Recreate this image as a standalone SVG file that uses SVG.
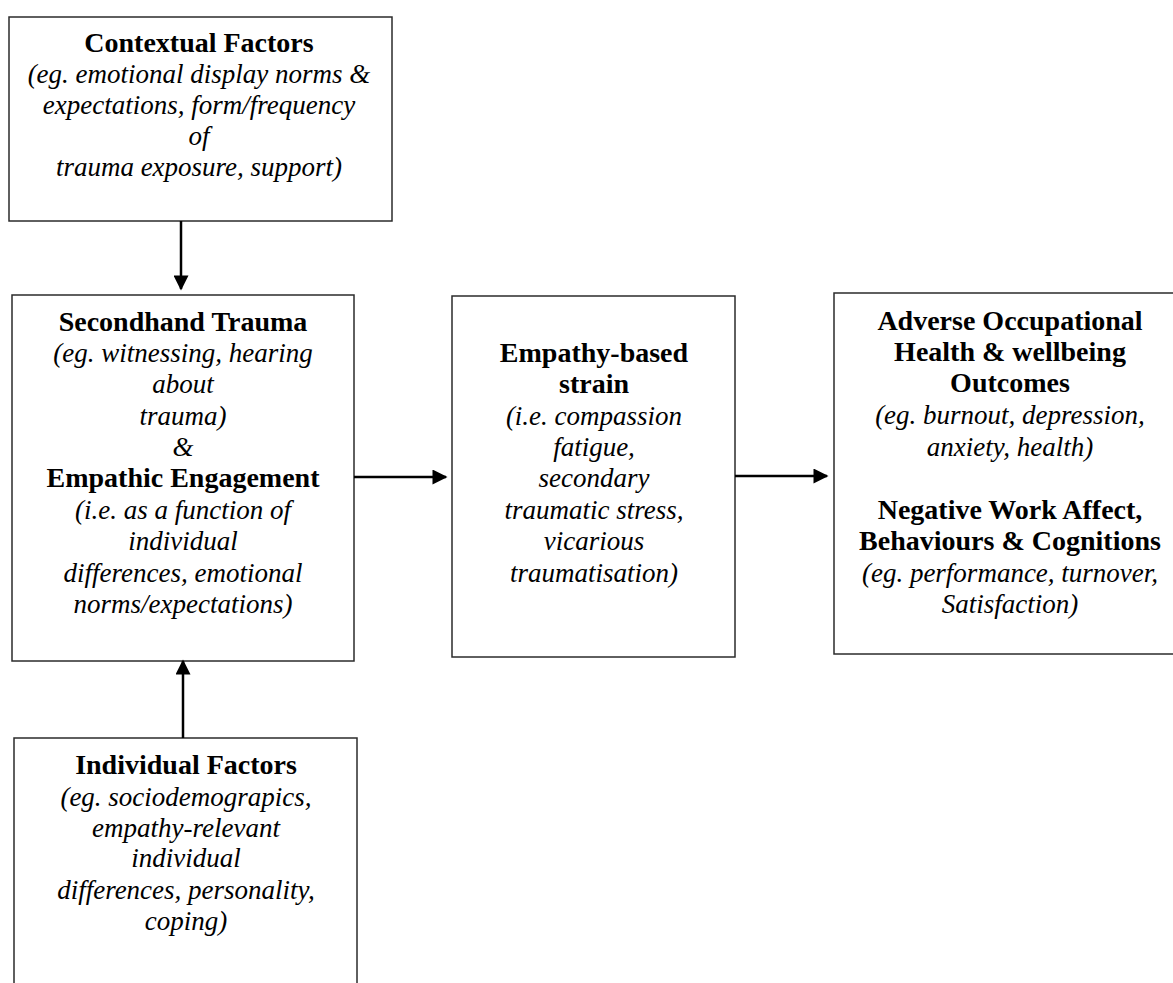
<svg xmlns="http://www.w3.org/2000/svg" width="1173" height="983" viewBox="0 0 1173 983">
  <style>
    .box { fill: #ffffff; stroke: #2b2b2b; stroke-width: 1.5; }
    .t { font-family: "Liberation Serif", "Times New Roman", serif; fill: #000000; text-anchor: middle; }
    .b { font-size: 28px; font-weight: bold; }
    .i { font-size: 27px; font-style: italic; }
    .link { stroke: #000000; stroke-width: 2.5; fill: none; marker-end: url(#head); }
  </style>
  <defs>
    <marker id="head" viewBox="0 0 10 10" refX="9" refY="5" markerUnits="userSpaceOnUse" markerWidth="16" markerHeight="15" orient="auto">
      <path d="M0,0 L10,5 L0,10 Z" fill="#000000"/>
    </marker>
  </defs>
  <rect width="1173" height="983" fill="#ffffff"/>

  <g id="contextual-factors">
    <rect class="box" x="9" y="17" width="383" height="204"/>
    <text class="t b" x="199" y="52">Contextual Factors</text>
    <text class="t i" x="199" y="83">(eg. emotional display norms &amp;</text>
    <text class="t i" x="199" y="114">expectations, form/frequency</text>
    <text class="t i" x="199" y="145">of</text>
    <text class="t i" x="199" y="176">trauma exposure, support)</text>
  </g>

  <g id="secondhand-trauma">
    <rect class="box" x="12" y="295" width="342" height="366"/>
    <text class="t b" x="183" y="331">Secondhand Trauma</text>
    <text class="t i" x="183" y="362">(eg. witnessing, hearing</text>
    <text class="t i" x="183" y="393">about</text>
    <text class="t i" x="183" y="425">trauma)</text>
    <text class="t i" x="183" y="456">&amp;</text>
    <text class="t b" x="183" y="487">Empathic Engagement</text>
    <text class="t i" x="183" y="519">(i.e. as a function of</text>
    <text class="t i" x="183" y="550">individual</text>
    <text class="t i" x="183" y="582">differences, emotional</text>
    <text class="t i" x="183" y="613">norms/expectations)</text>
  </g>

  <g id="empathy-based-strain">
    <rect class="box" x="452" y="296" width="283" height="361"/>
    <text class="t b" x="594" y="362">Empathy-based</text>
    <text class="t b" x="594" y="393">strain</text>
    <text class="t i" x="594" y="425">(i.e. compassion</text>
    <text class="t i" x="594" y="456">fatigue,</text>
    <text class="t i" x="594" y="487">secondary</text>
    <text class="t i" x="594" y="519">traumatic stress,</text>
    <text class="t i" x="594" y="550">vicarious</text>
    <text class="t i" x="594" y="582">traumatisation)</text>
  </g>

  <g id="outcomes">
    <rect class="box" x="834" y="293" width="360" height="361"/>
    <text class="t b" x="1010" y="330">Adverse Occupational</text>
    <text class="t b" x="1010" y="361">Health &amp; wellbeing</text>
    <text class="t b" x="1010" y="392">Outcomes</text>
    <text class="t i" x="1010" y="424">(eg. burnout, depression,</text>
    <text class="t i" x="1010" y="456">anxiety, health)</text>
    <text class="t b" x="1010" y="519">Negative Work Affect,</text>
    <text class="t b" x="1010" y="550">Behaviours &amp; Cognitions</text>
    <text class="t i" x="1010" y="582">(eg. performance, turnover,</text>
    <text class="t i" x="1010" y="613">Satisfaction)</text>
  </g>

  <g id="individual-factors">
    <rect class="box" x="14" y="738" width="343" height="260"/>
    <text class="t b" x="186" y="774">Individual Factors</text>
    <text class="t i" x="186" y="806">(eg. sociodemograpics,</text>
    <text class="t i" x="186" y="837">empathy-relevant</text>
    <text class="t i" x="186" y="867">individual</text>
    <text class="t i" x="186" y="899">differences, personality,</text>
    <text class="t i" x="186" y="930">coping)</text>
  </g>

  <g id="connectors">
    <line class="link" x1="181" y1="221" x2="181" y2="289"/>
    <line class="link" x1="183" y1="738" x2="183" y2="661"/>
    <line class="link" x1="354" y1="477" x2="446" y2="477"/>
    <line class="link" x1="735" y1="476" x2="827" y2="476"/>
  </g>
</svg>
